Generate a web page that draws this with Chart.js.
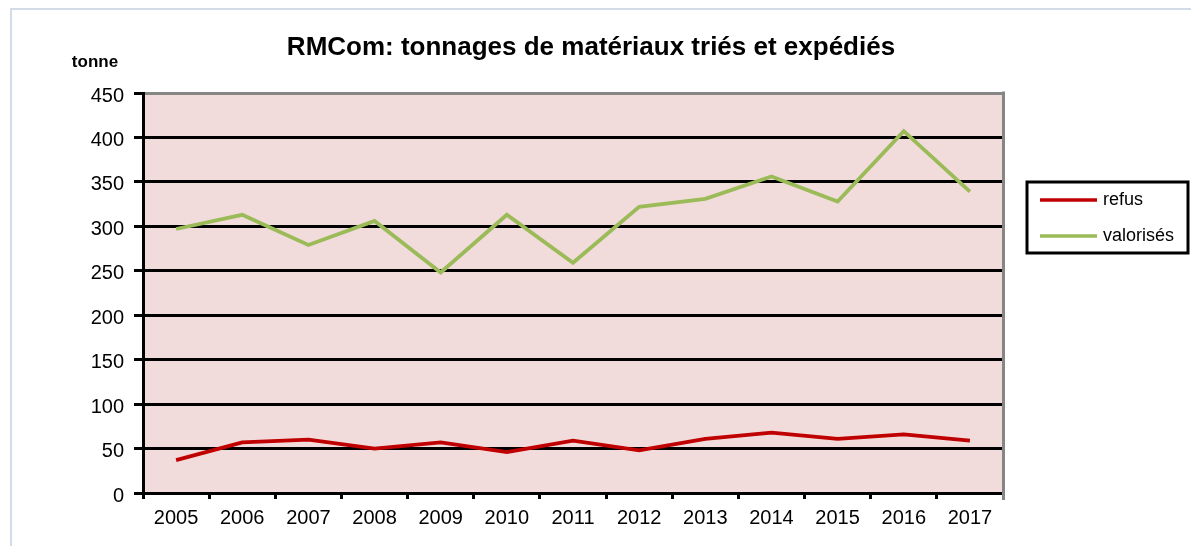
<!DOCTYPE html>
<html lang="fr">
<head>
  <meta charset="UTF-8" />
  <title>RMCom: tonnages de matériaux triés et expédiés</title>
  <script src="https://cdn.jsdelivr.net/npm/chart.js"></script>
  <style>
    html, body {
      margin: 0;
      padding: 0;
      background: #fff;
    }
    #wrap {
      width: 1191px;
      height: 546px;
    }
  </style>
</head>
<body>
  <div id="wrap"><canvas id="chart" width="1191" height="546"></canvas></div>
  <script>
    const years = ['2005', '2006', '2007', '2008', '2009', '2010', '2011', '2012', '2013', '2014', '2015', '2016', '2017'];
    const refus = [37, 57, 60, 50, 57, 46, 59, 48, 61, 68, 61, 66, 59];
    const valorises = [297, 313, 279, 306, 248, 313, 259, 322, 331, 356, 328, 407, 339];
    const titleText = 'RMCom: tonnages de matériaux triés et expédiés';
    const unitText = 'tonne';

    const font = '"Liberation Sans", Arial, sans-serif';

    // background, frame, title, unit label and boxed legend
    const framePlugin = {
      id: 'frame',
      beforeDraw(chart) {
        const ctx = chart.ctx;
        const a = chart.chartArea;
        ctx.save();
        ctx.fillStyle = '#fff';
        ctx.fillRect(0, 0, chart.width, chart.height);
        ctx.strokeStyle = '#d3dbe6';
        ctx.lineWidth = 2;
        ctx.strokeRect(11, 9, chart.width + 20, chart.height + 20);
        ctx.fillStyle = '#f2dcdb';
        ctx.fillRect(a.left, a.top, a.right - a.left, a.bottom - a.top);
        ctx.restore();
      },
      afterDraw(chart) {
        const ctx = chart.ctx;
        const a = chart.chartArea;
        ctx.save();
        // right border of plot area
        ctx.strokeStyle = '#868686';
        ctx.lineWidth = 3;
        ctx.beginPath();
        ctx.moveTo(a.right + 0.5, a.top - 1.5);
        ctx.lineTo(a.right + 0.5, a.bottom + 7);
        ctx.stroke();

        // title
        ctx.fillStyle = '#000';
        ctx.textAlign = 'center';
        ctx.textBaseline = 'middle';
        ctx.font = 'bold 26px ' + font;
        ctx.fillText(titleText, 591, 48);

        // unit label
        ctx.font = 'bold 17px ' + font;
        ctx.fillText(unitText, 95, 62);

        // legend box
        const lx = 1027, ly = 182, lw = 161, lh = 71;
        ctx.strokeStyle = '#000';
        ctx.lineWidth = 3;
        ctx.strokeRect(lx, ly, lw, lh);
        ctx.textAlign = 'left';
        ctx.font = '18px ' + font;
        chart.data.datasets.forEach((ds, i) => {
          const y = ly + 18 + i * 36;
          ctx.strokeStyle = ds.borderColor;
          ctx.lineWidth = 3.5;
          ctx.beginPath();
          ctx.moveTo(lx + 13, y);
          ctx.lineTo(lx + 70, y);
          ctx.stroke();
          ctx.fillStyle = '#000';
          ctx.fillText(ds.label, lx + 76, y);
        });
        ctx.restore();
      }
    };

    const ctx = document.getElementById('chart').getContext('2d');
    new Chart(ctx, {
      type: 'line',
      data: {
        labels: years,
        datasets: [
          {
            label: 'refus',
            data: refus,
            borderColor: '#c00000',
            borderWidth: 3.8,
            pointRadius: 0,
            tension: 0
          },
          {
            label: 'valorisés',
            data: valorises,
            borderColor: '#9bbb59',
            borderWidth: 3.8,
            pointRadius: 0,
            tension: 0
          }
        ]
      },
      options: {
        responsive: false,
        animation: false,
        layout: {
          padding: { left: 0, top: 93, right: 188, bottom: 0 }
        },
        plugins: {
          legend: { display: false },
          title: { display: false },
          tooltip: { enabled: false }
        },
        scales: {
          x: {
            offset: true,
            afterFit(s) { s.height = 53; },
            grid: {
              offset: true,
              drawOnChartArea: false,
              drawTicks: true,
              tickLength: 6,
              tickWidth: 3,
              tickColor: '#000'
            },
            border: { color: '#000', width: 3 },
            ticks: {
              color: '#000',
              padding: 7,
              font: { family: font, size: 20 },
              maxRotation: 0,
              autoSkip: false
            }
          },
          y: {
            min: 0,
            max: 450,
            afterFit(s) { s.width = 143; },
            grid: {
              color: (c) => (c.tick && c.tick.value === 450 ? '#868686' : '#000'),
              lineWidth: 3,
              tickLength: 9,
              tickWidth: 3,
              tickColor: '#000'
            },
            border: { color: '#000', width: 3 },
            ticks: {
              stepSize: 50,
              color: '#000',
              padding: 10,
              labelOffset: 3,
              font: { family: font, size: 20 }
            }
          }
        }
      },
      plugins: [framePlugin]
    });
  </script>
</body>
</html>
